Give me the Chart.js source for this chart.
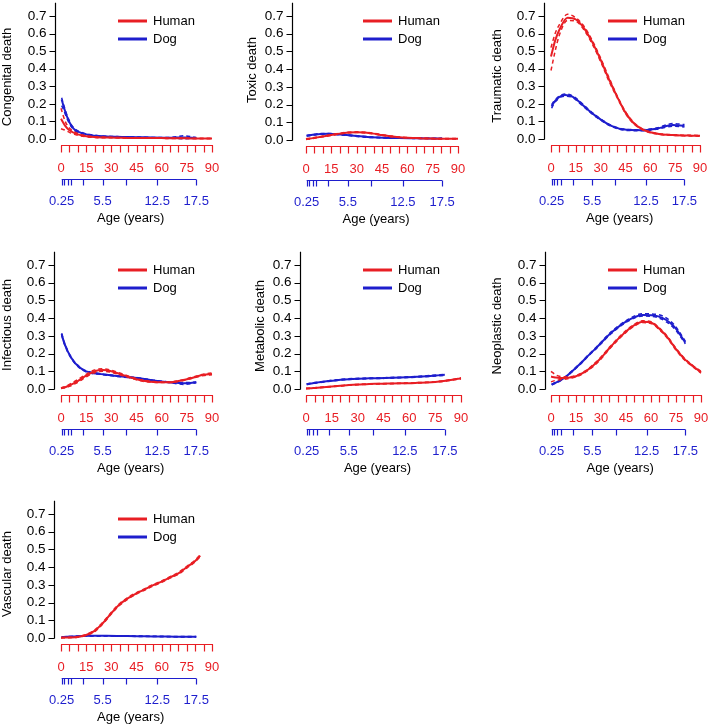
<!DOCTYPE html>
<html>
<head>
<meta charset="utf-8">
<script src="https://cdn.jsdelivr.net/npm/chart.js@4.4.1/dist/chart.umd.min.js"></script>
<style>
body { margin: 0; background: #fff; }
#wrap { position: relative; width: 709px; height: 726px; }
canvas { position: absolute; }
</style>
</head>
<body>
<div id="wrap"></div>
<script>
// ages: human in years, dog in dog-years (own scale under the human one)
const humanAge = [0, 2.5, 5, 10, 15, 20, 25, 30, 35, 40, 45, 50, 55, 60, 65, 70, 75, 80, 85, 90];
const humanAgeVascular = [0, 5, 10, 15, 20, 25, 30, 35, 40, 45, 50, 55, 60, 65, 70, 75, 80, 83];
const dogAge = [0.25, 0.5, 1, 1.5, 2, 3, 4, 5, 6, 8, 10, 12, 14, 16, 17.5];

const yTicks = [0, 0.1, 0.2, 0.3, 0.4, 0.5, 0.6, 0.7];
const humanTicks = [0, 5, 10, 15, 20, 25, 30, 35, 40, 45, 50, 55, 60, 65, 70, 75, 80, 85, 90];
const humanTickLabels = [0, 15, 30, 45, 60, 75, 90];
const dogTicks = [0.25, 0.5, 1, 1.5, 3, 5.5, 8.5, 12.5, 17.5];
const dogTickLabels = [0.25, 5.5, 12.5, 17.5];

// congenital
const humanCongenital   = [0.115, 0.075, 0.05, 0.026, 0.016, 0.011, 0.009, 0.008, 0.007, 0.006, 0.006, 0.005, 0.005, 0.005, 0.004, 0.004, 0.004, 0.003, 0.003, 0.003];
const humanCongenitalHi = [0.175, 0.1, 0.062, 0.031, 0.019, 0.013, 0.011, 0.009, 0.008, 0.007, 0.007, 0.006, 0.006, 0.006, 0.005, 0.005, 0.005, 0.004, 0.004, 0.004];
const humanCongenitalLo = [0.058, 0.05, 0.038, 0.021, 0.013, 0.009, 0.007, 0.007, 0.006, 0.005, 0.005, 0.004, 0.004, 0.004, 0.003, 0.003, 0.003, 0.002, 0.002, 0.002];
const dogCongenital   = [0.225, 0.185, 0.12, 0.075, 0.05, 0.032, 0.022, 0.017, 0.014, 0.012, 0.01, 0.008, 0.007, 0.009, 0.006];
const dogCongenitalHi = [0.235, 0.195, 0.128, 0.081, 0.055, 0.035, 0.024, 0.019, 0.016, 0.013, 0.011, 0.009, 0.009, 0.018, 0.009];
const dogCongenitalLo = [0.19, 0.165, 0.11, 0.069, 0.045, 0.029, 0.02, 0.015, 0.012, 0.011, 0.009, 0.007, 0.005, 0.002, 0.004];

// toxic
const humanToxic   = [0.005, 0.008, 0.012, 0.02, 0.028, 0.036, 0.042, 0.044, 0.042, 0.036, 0.028, 0.021, 0.016, 0.013, 0.011, 0.009, 0.008, 0.007, 0.007, 0.007];
const humanToxicHi = [0.007, 0.01, 0.014, 0.022, 0.03, 0.038, 0.044, 0.046, 0.044, 0.038, 0.03, 0.023, 0.017, 0.014, 0.012, 0.01, 0.009, 0.008, 0.008, 0.008];
const humanToxicLo = [0.003, 0.006, 0.01, 0.018, 0.026, 0.034, 0.04, 0.042, 0.04, 0.034, 0.026, 0.019, 0.015, 0.012, 0.01, 0.008, 0.007, 0.006, 0.006, 0.006];
const dogToxic   = [0.024, 0.026, 0.029, 0.032, 0.034, 0.035, 0.033, 0.029, 0.025, 0.017, 0.013, 0.011, 0.01, 0.009, 0.008];
const dogToxicHi = [0.027, 0.028, 0.031, 0.034, 0.036, 0.037, 0.035, 0.031, 0.027, 0.019, 0.014, 0.012, 0.011, 0.01, 0.01];
const dogToxicLo = [0.021, 0.024, 0.027, 0.03, 0.032, 0.033, 0.031, 0.027, 0.023, 0.015, 0.012, 0.01, 0.009, 0.008, 0.006];

// traumatic
const humanTraumatic   = [0.47, 0.56, 0.62, 0.69, 0.68, 0.63, 0.55, 0.45, 0.34, 0.24, 0.15, 0.09, 0.056, 0.038, 0.029, 0.024, 0.022, 0.02, 0.019, 0.018];
const humanTraumaticHi = [0.52, 0.6, 0.65, 0.71, 0.69, 0.64, 0.56, 0.46, 0.35, 0.245, 0.155, 0.094, 0.059, 0.04, 0.031, 0.026, 0.024, 0.022, 0.021, 0.02];
const humanTraumaticLo = [0.39, 0.5, 0.59, 0.675, 0.67, 0.62, 0.54, 0.44, 0.33, 0.235, 0.145, 0.086, 0.053, 0.036, 0.027, 0.022, 0.02, 0.018, 0.017, 0.016];
const dogTraumatic   = [0.185, 0.205, 0.23, 0.245, 0.25, 0.24, 0.205, 0.165, 0.13, 0.075, 0.052, 0.05, 0.06, 0.08, 0.075];
const dogTraumaticHi = [0.195, 0.212, 0.236, 0.25, 0.256, 0.245, 0.21, 0.17, 0.134, 0.078, 0.055, 0.053, 0.064, 0.088, 0.082];
const dogTraumaticLo = [0.175, 0.198, 0.224, 0.24, 0.244, 0.235, 0.2, 0.16, 0.126, 0.072, 0.049, 0.047, 0.056, 0.073, 0.068];

// infectious
const humanInfectious   = [0.005, 0.01, 0.02, 0.045, 0.075, 0.1, 0.107, 0.1, 0.085, 0.07, 0.055, 0.045, 0.04, 0.038, 0.038, 0.045, 0.055, 0.068, 0.08, 0.085];
const humanInfectiousHi = [0.007, 0.014, 0.026, 0.053, 0.083, 0.108, 0.114, 0.106, 0.09, 0.074, 0.058, 0.048, 0.042, 0.04, 0.04, 0.047, 0.058, 0.071, 0.084, 0.09];
const humanInfectiousLo = [0.003, 0.007, 0.015, 0.038, 0.068, 0.092, 0.1, 0.094, 0.08, 0.066, 0.052, 0.042, 0.038, 0.036, 0.036, 0.043, 0.052, 0.065, 0.076, 0.08];
const dogInfectious   = [0.31, 0.27, 0.215, 0.175, 0.145, 0.108, 0.092, 0.086, 0.08, 0.07, 0.062, 0.048, 0.038, 0.032, 0.038];
const dogInfectiousHi = [0.315, 0.274, 0.219, 0.178, 0.148, 0.111, 0.095, 0.088, 0.082, 0.072, 0.064, 0.05, 0.04, 0.036, 0.04];
const dogInfectiousLo = [0.305, 0.266, 0.211, 0.172, 0.142, 0.105, 0.089, 0.084, 0.078, 0.068, 0.06, 0.046, 0.036, 0.026, 0.035];

// metabolic
const humanMetabolic   = [0.003, 0.004, 0.006, 0.01, 0.014, 0.018, 0.022, 0.025, 0.027, 0.029, 0.03, 0.031, 0.032, 0.033, 0.035, 0.037, 0.04, 0.045, 0.052, 0.06];
const humanMetabolicHi = [0.004, 0.005, 0.007, 0.011, 0.015, 0.019, 0.023, 0.026, 0.028, 0.03, 0.031, 0.032, 0.033, 0.034, 0.036, 0.038, 0.041, 0.047, 0.054, 0.063];
const humanMetabolicLo = [0.002, 0.003, 0.005, 0.009, 0.013, 0.017, 0.021, 0.024, 0.026, 0.028, 0.029, 0.03, 0.031, 0.032, 0.034, 0.036, 0.039, 0.043, 0.05, 0.057];
const dogMetabolic   = [0.027, 0.029, 0.033, 0.036, 0.039, 0.045, 0.05, 0.054, 0.057, 0.06, 0.062, 0.065, 0.069, 0.075, 0.08];
const dogMetabolicHi = [0.029, 0.031, 0.035, 0.038, 0.041, 0.047, 0.052, 0.056, 0.059, 0.062, 0.064, 0.067, 0.071, 0.078, 0.083];
const dogMetabolicLo = [0.025, 0.027, 0.031, 0.034, 0.037, 0.043, 0.048, 0.052, 0.055, 0.058, 0.06, 0.063, 0.067, 0.072, 0.077];

// neoplastic
const humanNeoplastic   = [0.07, 0.065, 0.062, 0.063, 0.072, 0.095, 0.13, 0.175, 0.23, 0.28, 0.325, 0.36, 0.38, 0.375, 0.34, 0.29, 0.225, 0.17, 0.13, 0.095];
const humanNeoplasticHi = [0.1, 0.082, 0.072, 0.068, 0.076, 0.099, 0.135, 0.18, 0.235, 0.285, 0.33, 0.365, 0.385, 0.38, 0.345, 0.295, 0.23, 0.175, 0.134, 0.1];
const humanNeoplasticLo = [0.04, 0.048, 0.052, 0.058, 0.068, 0.091, 0.125, 0.17, 0.225, 0.275, 0.32, 0.355, 0.375, 0.37, 0.335, 0.285, 0.22, 0.165, 0.126, 0.09];
const dogNeoplastic   = [0.025, 0.03, 0.04, 0.052, 0.066, 0.105, 0.145, 0.19, 0.232, 0.32, 0.385, 0.418, 0.41, 0.355, 0.262];
const dogNeoplasticHi = [0.027, 0.032, 0.042, 0.054, 0.068, 0.108, 0.148, 0.193, 0.236, 0.325, 0.39, 0.425, 0.42, 0.365, 0.27];
const dogNeoplasticLo = [0.023, 0.028, 0.038, 0.05, 0.064, 0.102, 0.142, 0.187, 0.228, 0.315, 0.38, 0.412, 0.402, 0.345, 0.255];

// vascular
const humanVascular   = [0.002, 0.003, 0.006, 0.017, 0.04, 0.085, 0.14, 0.19, 0.225, 0.252, 0.275, 0.298, 0.318, 0.342, 0.365, 0.4, 0.435, 0.465];
const humanVascularHi = [0.003, 0.004, 0.008, 0.02, 0.045, 0.09, 0.145, 0.195, 0.23, 0.256, 0.279, 0.302, 0.322, 0.346, 0.37, 0.405, 0.44, 0.47];
const humanVascularLo = [0.001, 0.002, 0.004, 0.014, 0.035, 0.08, 0.135, 0.185, 0.22, 0.248, 0.271, 0.294, 0.314, 0.338, 0.36, 0.395, 0.43, 0.46];
const dogVascular   = [0.005, 0.006, 0.007, 0.008, 0.009, 0.011, 0.012, 0.012, 0.012, 0.011, 0.01, 0.009, 0.008, 0.007, 0.007];
const dogVascularHi = [0.006, 0.007, 0.008, 0.009, 0.01, 0.012, 0.013, 0.013, 0.013, 0.012, 0.011, 0.01, 0.009, 0.008, 0.008];
const dogVascularLo = [0.004, 0.005, 0.006, 0.007, 0.008, 0.01, 0.011, 0.011, 0.011, 0.01, 0.009, 0.008, 0.007, 0.006, 0.006];

const RED = 'rgb(232,30,36)';
const BLUE = 'rgb(30,30,205)';
const FONT = "'Liberation Sans', Arial, sans-serif";

const panels = [
	{ label: 'Congenital death', left: 0, top: 0, axisX: 55, red0: 61, red90: 212, y07: 16, y00: 139, ylabX: 7, ylabY: 77,
		hAge: humanAge, h: [humanCongenital, humanCongenitalHi, humanCongenitalLo], d: [dogCongenital, dogCongenitalHi, dogCongenitalLo] },
	{ label: 'Toxic death', left: 236, top: 0, axisX: 292, red0: 306, red90: 458, y07: 16, y00: 140, ylabX: 252, ylabY: 70,
		hAge: humanAge, h: [humanToxic, humanToxicHi, humanToxicLo], d: [dogToxic, dogToxicHi, dogToxicLo] },
	{ label: 'Traumatic death', left: 472, top: 0, axisX: 544, red0: 551, red90: 700, y07: 16, y00: 139, ylabX: 497, ylabY: 76,
		hAge: humanAge, h: [humanTraumatic, humanTraumaticHi, humanTraumaticLo], d: [dogTraumatic, dogTraumaticHi, dogTraumaticLo] },
	{ label: 'Infectious death', left: 0, top: 250, axisX: 54, red0: 61, red90: 212, y07: 265, y00: 389, ylabX: 7, ylabY: 325,
		hAge: humanAge, h: [humanInfectious, humanInfectiousHi, humanInfectiousLo], d: [dogInfectious, dogInfectiousHi, dogInfectiousLo] },
	{ label: 'Metabolic death', left: 236, top: 250, axisX: 300, red0: 306, red90: 461, y07: 265, y00: 389, ylabX: 260, ylabY: 326,
		hAge: humanAge, h: [humanMetabolic, humanMetabolicHi, humanMetabolicLo], d: [dogMetabolic, dogMetabolicHi, dogMetabolicLo] },
	{ label: 'Neoplastic death', left: 472, top: 250, axisX: 545, red0: 551, red90: 701, y07: 265, y00: 389, ylabX: 497, ylabY: 326,
		hAge: humanAge, h: [humanNeoplastic, humanNeoplasticHi, humanNeoplasticLo], d: [dogNeoplastic, dogNeoplasticHi, dogNeoplasticLo] },
	{ label: 'Vascular death', left: 0, top: 499, axisX: 54, red0: 61, red90: 212, y07: 514, y00: 638, ylabX: 7, ylabY: 574,
		hAge: humanAgeVascular, h: [humanVascular, humanVascularHi, humanVascularLo], d: [dogVascular, dogVascularHi, dogVascularLo] },
];

const W = 236, H = 249;

// R-style detached axes + legend, drawn from the chart's own scales
const rAxes = {
	id: 'rAxes',
	afterDraw(chart, args, o) {
		const ctx = chart.ctx;
		const x = chart.scales.x, xd = chart.scales.xDog, y = chart.scales.y;
		const y0 = Math.round(y.getPixelForValue(0)) + 0.5;
		const ax = o.axisX + 0.5;
		ctx.save();
		ctx.lineWidth = 1.2;

		// y axis
		ctx.strokeStyle = '#000';
		ctx.beginPath();
		ctx.moveTo(ax, y0);
		ctx.lineTo(ax, y.getPixelForValue(0.775));
		yTicks.forEach((v) => {
			const p = Math.round(y.getPixelForValue(v)) + 0.5;
			ctx.moveTo(ax - 6, p);
			ctx.lineTo(ax, p);
		});
		ctx.stroke();
		ctx.fillStyle = '#000';
		ctx.font = '13.5px ' + FONT;
		ctx.textAlign = 'right';
		ctx.textBaseline = 'middle';
		yTicks.forEach((v) => ctx.fillText(v.toFixed(1), ax - 9, y.getPixelForValue(v)));

		// y title
		ctx.save();
		ctx.translate(o.ylabX, o.ylabY);
		ctx.rotate(-Math.PI / 2);
		ctx.textAlign = 'center';
		ctx.font = '13px ' + FONT;
		ctx.fillText(o.label, 0, 0);
		ctx.restore();

		// human age axis
		const ry = y0 + 6;
		ctx.strokeStyle = RED;
		ctx.beginPath();
		ctx.moveTo(x.getPixelForValue(0), ry);
		ctx.lineTo(x.getPixelForValue(90) + 1, ry);
		humanTicks.forEach((v) => {
			const p = Math.round(x.getPixelForValue(v)) + 0.5;
			ctx.moveTo(p, ry);
			ctx.lineTo(p, ry + 7);
		});
		ctx.stroke();
		ctx.fillStyle = RED;
		ctx.textAlign = 'center';
		ctx.font = '13px ' + FONT;
		humanTickLabels.forEach((v) => ctx.fillText(String(v), x.getPixelForValue(v), y0 + 29));

		// dog age axis
		const by = y0 + 40;
		ctx.strokeStyle = BLUE;
		ctx.beginPath();
		ctx.moveTo(xd.getPixelForValue(dogTicks[0]), by);
		ctx.lineTo(xd.getPixelForValue(dogTicks[dogTicks.length - 1]), by);
		dogTicks.forEach((v) => {
			const p = Math.round(xd.getPixelForValue(v)) + 0.5;
			ctx.moveTo(p, by);
			ctx.lineTo(p, by + 6);
		});
		ctx.stroke();
		ctx.fillStyle = BLUE;
		dogTickLabels.forEach((v) => ctx.fillText(String(v), xd.getPixelForValue(v), y0 + 62));

		ctx.fillStyle = '#000';
		ctx.font = '13px ' + FONT;
		ctx.fillText('Age (years)', x.getPixelForValue(41.5), y0 + 79);

		// legend
		const lx = x.getPixelForValue(0);
		const ly = y.getPixelForValue(0.7);
		ctx.lineWidth = 3;
		[['Human', RED, 5], ['Dog', BLUE, 23]].forEach(([name, col, dy]) => {
			ctx.strokeStyle = col;
			ctx.beginPath();
			ctx.moveTo(lx + 57, ly + dy);
			ctx.lineTo(lx + 86, ly + dy);
			ctx.stroke();
			ctx.fillStyle = '#000';
			ctx.textAlign = 'left';
			ctx.fillText(name, lx + 92, ly + dy);
		});
		ctx.restore();
	},
};

const toPoints = (xs, ys) => xs.map((v, i) => ({ x: v, y: ys[i] }));

const lineSet = (xs, ys, color, axis, dashed) => ({
	data: toPoints(xs, ys),
	xAxisID: axis,
	borderColor: color,
	borderWidth: dashed ? 1.5 : 2,
	borderDash: dashed ? [4, 3] : [],
	pointRadius: 0,
	cubicInterpolationMode: 'monotone',
	clip: false,
});

const wrap = document.getElementById('wrap');

panels.forEach((p) => {
	const canvas = document.createElement('canvas');
	canvas.width = W;
	canvas.height = H;
	canvas.style.left = p.left + 'px';
	canvas.style.top = p.top + 'px';
	wrap.appendChild(canvas);

	const datasets = [
		lineSet(p.hAge, p.h[1], RED, 'x', true),
		lineSet(p.hAge, p.h[2], RED, 'x', true),
		lineSet(p.hAge, p.h[0], RED, 'x', false),
		lineSet(dogAge, p.d[1], BLUE, 'xDog', true),
		lineSet(dogAge, p.d[2], BLUE, 'xDog', true),
		lineSet(dogAge, p.d[0], BLUE, 'xDog', false),
	];

	new Chart(canvas.getContext('2d'), {
		type: 'line',
		data: { datasets },
		options: {
			responsive: false,
			animation: false,
			devicePixelRatio: 1,
			layout: {
				padding: {
					left: p.red0 - p.left,
					right: W - (p.red90 - p.left),
					top: p.y07 - p.top,
					bottom: H - (p.y00 - p.top),
				},
			},
			scales: {
				x: { type: 'linear', min: 0, max: 90, display: false },
				// dog years lined up under human years (0.25 -> 0.4, 17.5 -> 80.6)
				xDog: { type: 'linear', min: 0.164, max: 19.52, display: false },
				y: { type: 'linear', min: 0, max: 0.7, display: false },
			},
			plugins: {
				legend: { display: false },
				tooltip: { enabled: false },
				rAxes: {
					axisX: p.axisX - p.left,
					ylabX: p.ylabX - p.left,
					ylabY: p.ylabY - p.top,
					label: p.label,
				},
			},
		},
		plugins: [rAxes],
	});
});
</script>
</body>
</html>
